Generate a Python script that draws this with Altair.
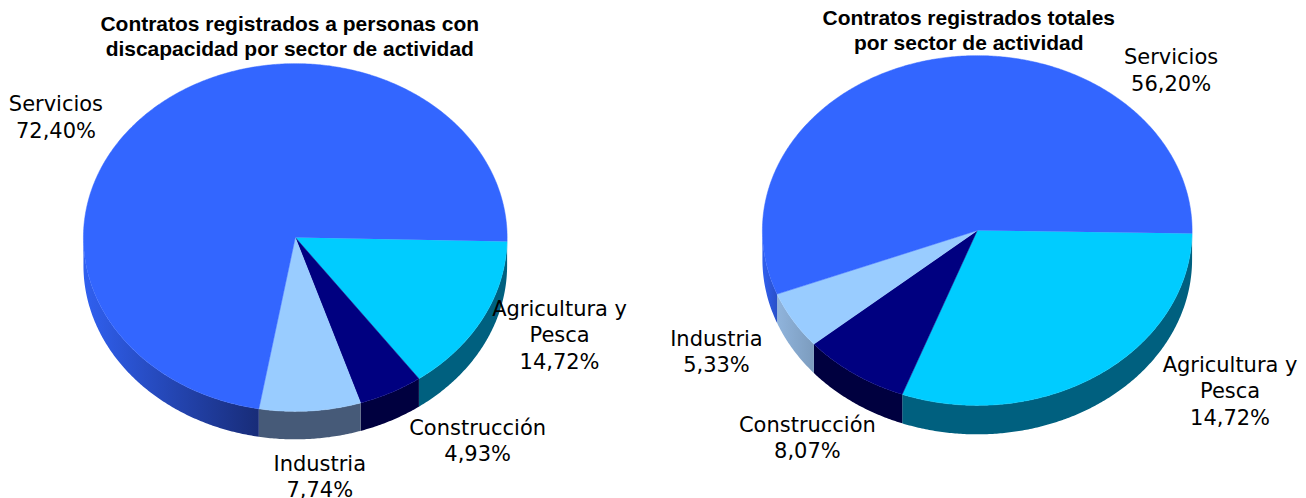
import math
import altair as alt
import pandas as pd

# ---- data ----
categories = ["Agricultura y Pesca", "Construcción", "Industria", "Servicios"]
left_values = [14.72, 4.93, 7.74, 72.40]
# the right pie is drawn with a ~30 % wedge, although its label prints 14,72 %
right_values = [30.40, 8.07, 5.33, 56.20]
left_labels = [["Agricultura y", "Pesca", "14,72%"], ["Construcción", "4,93%"], ["Industria", "7,74%"], ["Servicios", "72,40%"]]
right_labels = [["Agricultura y", "Pesca", "14,72%"], ["Construcción", "8,07%"], ["Industria", "5,33%"], ["Servicios", "56,20%"]]
left_title = ["Contratos registrados a personas con", "discapacidad  por sector de actividad"]
right_title = ["Contratos registrados totales", "por sector de actividad"]

# ---- styling / layout ----
top_colors = ["#00CCFF", "#000080", "#99CCFF", "#3366FF"]
left_walls = ["#00607F", "#00003F", "#465A78", ("#3060F0", "#182C78")]
right_walls = ["#00607F", "#00003F", ("#90B4DC", "#7C9CBE"), ("#3060F0", "#2A50C8")]
PW, PH, TOP = 645, 480, 8
left_geo = dict(cx=295.5, cy=236.5, rx=212, ry=174, depth=28, x0=8, rot=1.3)
right_geo = dict(cx=978, cy=229.5, rx=215, ry=175, depth=29, x0=8 + PW, rot=1.0)
left_pos = [(560, 315), (478, 434), (320, 470), (56, 110)]
right_pos = [(1231, 371), (808, 431), (717, 345), (1172, 63)]
left_title_pos = (290, 30)
right_title_pos = (969.5, 24)


def polygons(values, cx, cy, rx, ry, depth, rot):
    """Elliptical sectors (top faces) and front walls derived from the shares."""
    tops, walls = [], []
    start = rot
    n = len(values)
    for i, v in enumerate(values):
        end = 360.0 + rot if i == n - 1 else start + v * 3.6
        steps = max(2, int(end - start) * 2)
        pts = [(cx, cy)]
        for k in range(steps + 1):
            a = math.radians(start + (end - start) * k / steps)
            pts.append((cx + rx * math.cos(a), cy + ry * math.sin(a)))
        tops.append(pd.DataFrame({"x": [p[0] for p in pts], "y": [p[1] for p in pts], "o": range(len(pts))}))
        a0, a1 = (0.0 if i == 0 else start), min(end, 180.0)
        if a1 > a0:
            ws = max(2, int(a1 - a0) * 2)
            arc = [math.radians(a0 + (a1 - a0) * k / ws) for k in range(ws + 1)]
            up = [(cx + rx * math.cos(a), cy + ry * math.sin(a)) for a in arc]
            dn = [(x, y + depth) for x, y in reversed(up)]
            w = up + dn + [up[0]]
            walls.append(pd.DataFrame({"x": [p[0] for p in w], "y": [p[1] for p in w], "o": range(len(w))}))
        else:
            walls.append(None)
        start = end
    return tops, walls


def wall_fill(c):
    if isinstance(c, tuple):
        return alt.Gradient(gradient="linear", x1=0, x2=1, y1=0, y2=0,
                            stops=[alt.GradientStop(offset=0, color=c[0]), alt.GradientStop(offset=1, color=c[1])])
    return c


def panel(values, labels, title, walls_c, geo, pos, title_pos):
    x_s = alt.Scale(domain=[geo["x0"], geo["x0"] + PW], nice=False, zero=False)
    y_s = alt.Scale(domain=[TOP + PH, TOP], nice=False, zero=False)
    X = alt.X("x:Q", scale=x_s, axis=None)
    Y = alt.Y("y:Q", scale=y_s, axis=None)
    tops, walls = polygons(values, geo["cx"], geo["cy"], geo["rx"], geo["ry"], geo["depth"], geo["rot"])
    layers = []
    for df, c in zip(walls, walls_c):
        if df is not None:
            layers.append(alt.Chart(df).mark_line(fill=wall_fill(c), strokeWidth=0, interpolate="linear").encode(x=X, y=Y, order="o:Q"))
    for df, c in zip(tops, top_colors):
        layers.append(alt.Chart(df).mark_line(fill=c, stroke=c, strokeWidth=0.5, interpolate="linear").encode(x=X, y=Y, order="o:Q"))
    lab = pd.DataFrame({"x": [p[0] for p in pos], "y": [p[1] for p in pos], "t": labels})
    layers.append(alt.Chart(lab).mark_text(font="DejaVu Sans", fontSize=21, lineHeight=26.5, color="black",
                                           align="center", baseline="alphabetic").encode(x=X, y=Y, text="t"))
    ttl = pd.DataFrame({"x": [title_pos[0]], "y": [title_pos[1]], "t": [title]})
    layers.append(alt.Chart(ttl).mark_text(font="Liberation Sans", fontSize=21, fontWeight="bold", lineHeight=25,
                                           color="black", align="center", baseline="alphabetic").encode(x=X, y=Y, text="t"))
    return alt.layer(*layers).properties(width=PW, height=PH)


chart = alt.hconcat(
    panel(left_values, left_labels, left_title, left_walls, left_geo, left_pos, left_title_pos),
    panel(right_values, right_labels, right_title, right_walls, right_geo, right_pos, right_title_pos),
    spacing=0,
).properties(padding=0, background="white").configure_view(stroke=None)

chart.save("out.html", embed_options={"renderer": "svg", "actions": False})
